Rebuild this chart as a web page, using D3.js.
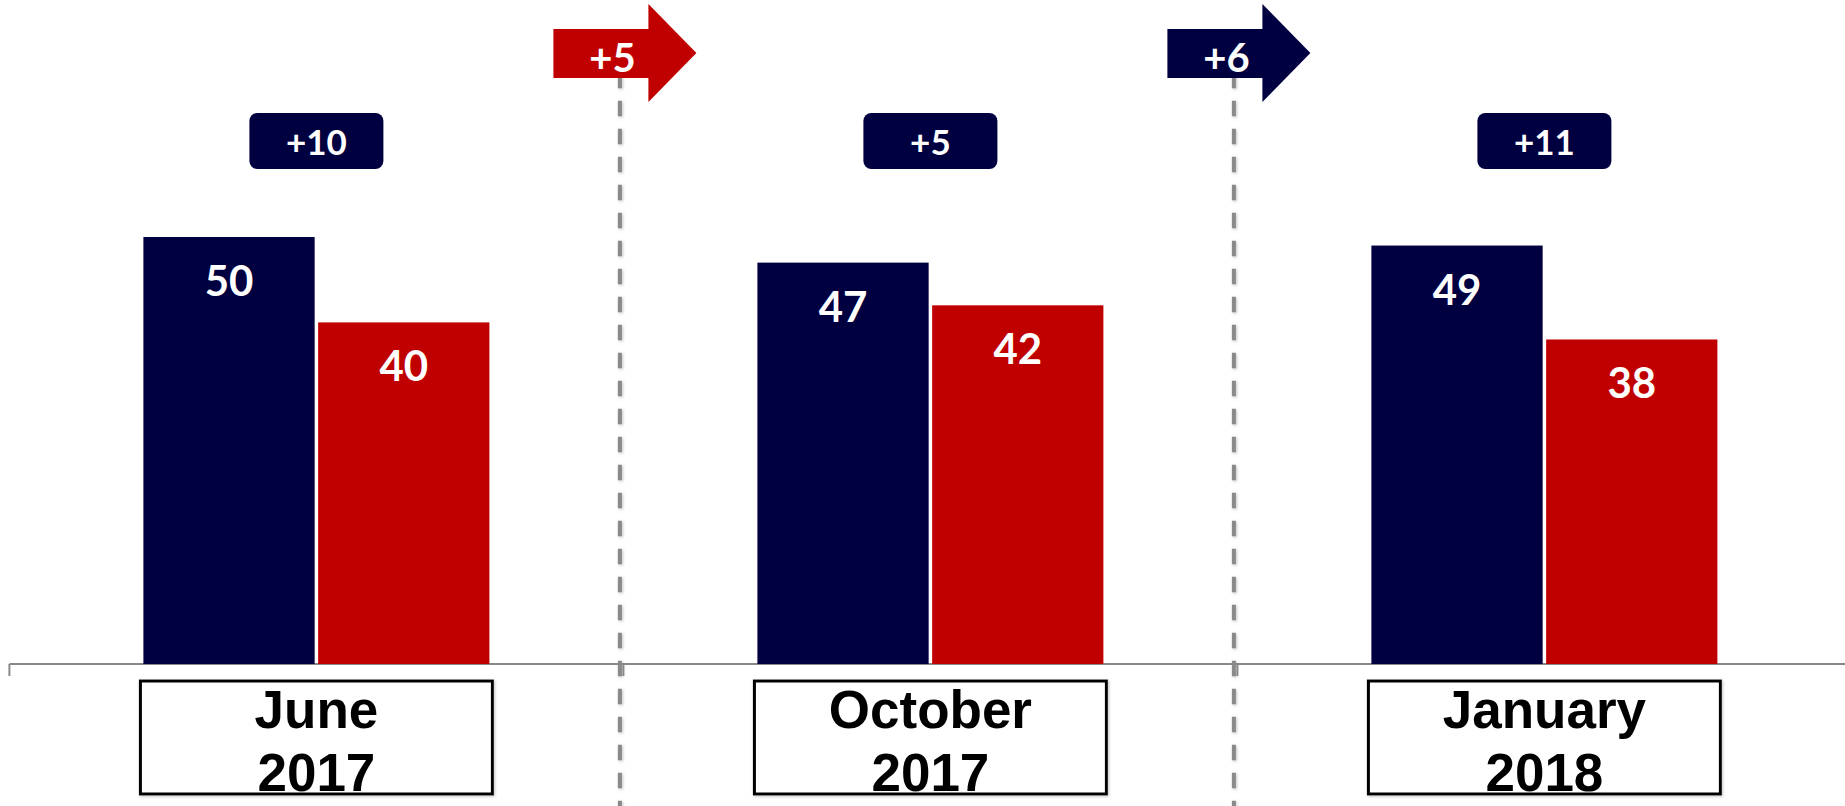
<!DOCTYPE html>
<html>
<head>
<meta charset="utf-8">
<script src="https://cdn.jsdelivr.net/npm/d3@7"></script>
<style>
  body { margin: 0; background: #ffffff; }
  svg { display: block; }
</style>
</head>
<body>
<svg width="1845" height="806"></svg>
<script>
// data
var periods = ["June 2017", "October 2017", "January 2018"]
var period_lines = [["June", "2017"], ["October", "2017"], ["January", "2018"]]
var navy_values = [50, 47, 49]
var red_values = [40, 42, 38]
var shift_labels = ["+5", "+6"]

var navy = "#000040"
var red = "#c00000"
var shift_colors = [red, navy]

var width = 1845
var height = 806
var base_y = 664

var svg = d3.select("svg")

var x = d3.scaleBand()
    .domain(periods)
    .range([9.4, 9.4 + 614 * periods.length])

var x_in = d3.scaleBand()
    .domain(["navy", "red"])
    .range([-173, 173])
    .paddingInner(0.02)

var y = d3.scaleLinear()
    .domain([0, 60])
    .range([base_y, base_y - 60 * 8.54])

var bars = []
periods.forEach(function(p, i){
    bars.push({period: p, key: "navy", value: navy_values[i], color: navy})
    bars.push({period: p, key: "red", value: red_values[i], color: red})
})

function center(p){
    return x(p) + x.bandwidth() / 2
}

function bar_x(d){
    return center(d.period) + x_in(d.key)
}

function arrow_x(i){
    return x(periods[i + 1]) - 70
}

/**********
*affichage*
**********/

var defs = svg.append("defs")
defs.append("filter")
    .attr("id", "soft")
    .attr("filterUnits", "userSpaceOnUse")
    .attr("x", 0).attr("y", 0)
    .attr("width", width).attr("height", height)
    .append("feDropShadow")
    .attr("dx", 1).attr("dy", 1)
    .attr("stdDeviation", 1.5)
    .attr("flood-color", "#999999")
    .attr("flood-opacity", 0.6)

function display_axis(){
    var g = svg.append("g").attr("class", "axis")
    g.append("line")
        .attr("x1", x.range()[0]).attr("x2", width)
        .attr("y1", base_y).attr("y2", base_y)
        .attr("stroke", "#888888")
        .attr("stroke-width", 2)
    g.selectAll(".tick")
        .data(periods)
        .enter()
        .append("line")
        .attr("class", "tick")
        .attr("x1", function(d){ return x(d) })
        .attr("x2", function(d){ return x(d) })
        .attr("y1", base_y)
        .attr("y2", base_y + 12)
        .attr("stroke", "#888888")
        .attr("stroke-width", 2)
}

function display_dashes(){
    svg.append("g")
        .attr("class", "dashes")
        .attr("filter", "url(#soft)")
        .selectAll("line")
        .data(periods.slice(1))
        .enter()
        .append("line")
        .attr("x1", function(d){ return x(d) - 3.5 })
        .attr("x2", function(d){ return x(d) - 3.5 })
        .attr("y1", 72.7)
        .attr("y2", height)
        .attr("stroke", "#8a8a8a")
        .attr("stroke-width", 4)
        .attr("stroke-dasharray", "15.5,12.5")
}

function display_bars(){
    var g = svg.append("g").attr("class", "bars")
    g.selectAll("rect")
        .data(bars)
        .enter()
        .append("rect")
        .attr("x", bar_x)
        .attr("y", function(d){ return y(d.value) })
        .attr("width", x_in.bandwidth())
        .attr("height", function(d){ return base_y - y(d.value) })
        .attr("fill", function(d){ return d.color })

    g.selectAll("text")
        .data(bars)
        .enter()
        .append("text")
        .text(function(d){ return d.value })
        .attr("x", function(d){ return bar_x(d) + x_in.bandwidth() / 2 })
        .attr("y", function(d){ return y(d.value) + 59 })
        .attr("text-anchor", "middle")
        .attr("fill", "#ffffff")
        .attr("font-family", "Lato, 'Open Sans', sans-serif")
        .attr("font-weight", "bold")
        .attr("font-size", 42)
}

function display_gaps(){
    var g = svg.append("g")
        .attr("class", "gaps")
        .selectAll("g")
        .data(periods)
        .enter()
        .append("g")

    g.append("rect")
        .attr("x", function(d){ return center(d) - 67 })
        .attr("y", 113)
        .attr("width", 134)
        .attr("height", 56)
        .attr("rx", 8)
        .attr("fill", navy)

    g.append("text")
        .text(function(d, i){ return "+" + (navy_values[i] - red_values[i]) })
        .attr("x", center)
        .attr("y", 155)
        .attr("text-anchor", "middle")
        .attr("fill", "#ffffff")
        .attr("font-family", "Lato, 'Open Sans', sans-serif")
        .attr("font-weight", "bold")
        .attr("font-size", 35)
}

function arrow_path(bx){
    return "M" + bx + ",29 L" + (bx + 95) + ",29 L" + (bx + 95) + ",4 L" + (bx + 143) + ",53 L"
        + (bx + 95) + ",102 L" + (bx + 95) + ",78 L" + bx + ",78 Z"
}

function display_shifts(){
    var g = svg.append("g")
        .attr("class", "shifts")
        .selectAll("g")
        .data(shift_labels)
        .enter()
        .append("g")

    g.append("path")
        .attr("d", function(d, i){ return arrow_path(arrow_x(i)) })
        .attr("fill", function(d, i){ return shift_colors[i] })

    g.append("text")
        .text(function(d){ return d })
        .attr("x", function(d, i){ return arrow_x(i) + 59 })
        .attr("y", 72)
        .attr("text-anchor", "middle")
        .attr("fill", "#ffffff")
        .attr("font-family", "Lato, 'Open Sans', sans-serif")
        .attr("font-weight", "bold")
        .attr("font-size", 40)
}

function display_periods(){
    var g = svg.append("g")
        .attr("class", "periods")
        .selectAll("g")
        .data(periods)
        .enter()
        .append("g")

    g.append("rect")
        .attr("x", function(d){ return center(d) - 176 })
        .attr("y", 681)
        .attr("width", 352)
        .attr("height", 113)
        .attr("fill", "#ffffff")
        .attr("stroke", "#000000")
        .attr("stroke-width", 3)
        .attr("filter", "url(#soft)")

    g.append("text")
        .text(function(d, i){ return period_lines[i][0] })
        .attr("x", center)
        .attr("y", 728)
        .attr("text-anchor", "middle")
        .attr("font-family", "'Liberation Sans', Arial, sans-serif")
        .attr("font-weight", "bold")
        .attr("font-size", 53)

    g.append("text")
        .text(function(d, i){ return period_lines[i][1] })
        .attr("x", center)
        .attr("y", 791)
        .attr("text-anchor", "middle")
        .attr("font-family", "'Liberation Sans', Arial, sans-serif")
        .attr("font-weight", "bold")
        .attr("font-size", 53)
}

display_dashes()
display_axis()
display_bars()
display_gaps()
display_shifts()
display_periods()
</script>
</body>
</html>
